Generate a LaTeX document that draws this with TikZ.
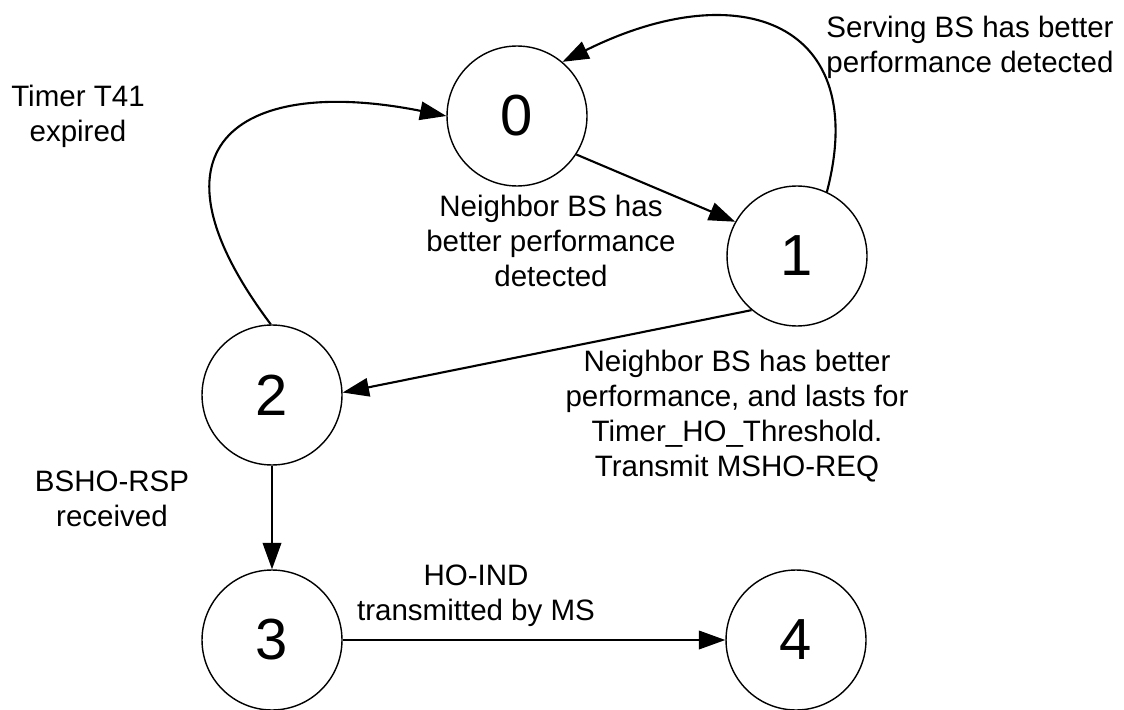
\documentclass[tikz,border=0pt]{standalone}
\usepackage{fontspec}
\setmainfont{Liberation Sans}
\usetikzlibrary{arrows.meta}
\begin{document}
\begin{tikzpicture}[x=0.02cm, y=-0.02cm,
  state/.style={circle, draw, line width=0.8pt, minimum size=2.8cm, inner sep=0pt,
                font=\fontsize{33}{36}\selectfont},
  lbl/.style={align=center, inner sep=0pt, font=\fontsize{16.8}{20}\selectfont},
  trans/.style={line width=1.2pt, -{Triangle[length=15pt,width=10.5pt]}},
]
\fill[white] (0,0) rectangle (1124,709);
\useasboundingbox (0,0) rectangle (1124,709);

% states
\node[state] (s0) at (517,116) {0};
\node[state] (s1) at (797,256) {1};
\node[state] (s2) at (272,395) {2};
\node[state] (s3) at (272,640) {3};
\node[state] (s4) at (796,640) {4};

% transitions
\draw[trans] (s0.-33.5) -- (s1.151);
\draw[trans] (s1.65) .. controls +(44,-168) and +(179,-89) .. (s0.50);
\draw[trans] (s1.230) -- (s2.2);
\draw[trans] (s2.91) .. controls +(-138,-184) and +(-200,-40) .. (s0.west);
\draw[trans] (s2.south) -- (s3.north);
\draw[trans] (s3.east) -- (s4.west);

% transition labels
\node[lbl] (lt41) at (78,116) {Timer T41\\expired};
\node[lbl] (lserv) at (970,47) {Serving BS has better\\performance detected};
\node[lbl] (lnb) at (551,241) {Neighbor BS has\\better performance\\detected};
\node[lbl] (lho) at (737,416) {Neighbor BS has better\\performance, and lasts for\\Timer\_HO\_Threshold.\\Transmit MSHO-REQ};
\node[lbl] (lrsp) at (112,499) {BSHO-RSP\\received};
\node[lbl] (lind) at (476,596) {HO-IND\\transmitted by MS};
\end{tikzpicture}
\end{document}
